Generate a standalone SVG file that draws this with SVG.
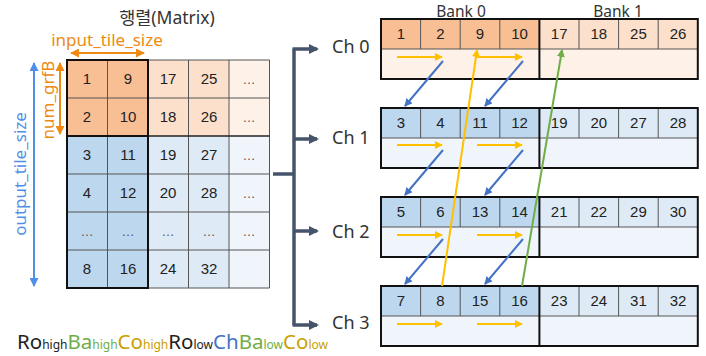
<svg xmlns="http://www.w3.org/2000/svg" width="706" height="356" viewBox="0 0 706 356">
  <style>
    .num { font-family: "Liberation Sans", Arial, sans-serif; font-size: 15px; fill: #222; text-anchor: middle; }
    .dots { font-family: "Liberation Sans", Arial, sans-serif; font-size: 13px; fill: #555; text-anchor: middle; }
    .lbl { font-family: "Noto Sans", "Noto Sans CJK KR", sans-serif; fill: #333; }
    .grid { stroke: #555; stroke-width: 1; fill: none; }
    .frame { stroke: #111; stroke-width: 2; fill: none; }
    .or1 { fill: #F8BF94; }
    .or2 { fill: #FCE0CB; }
    .or3 { fill: #FEF2E8; }
    .bl1 { fill: #BDD7EE; }
    .bl2 { fill: #DEEBF7; }
    .bl3 { fill: #F0F5FB; }
    .yel { stroke: #FFC000; stroke-width: 2; fill: none; }
    .blu { stroke: #4472C4; stroke-width: 2; fill: none; }
    .grn { stroke: #70AD47; stroke-width: 2; fill: none; }
    .bus { stroke: #44546A; stroke-width: 3.5; fill: none; }
  </style>
  <defs>
    <marker id="mYel" markerWidth="8" markerHeight="8" refX="7" refY="4" orient="auto" markerUnits="userSpaceOnUse"><path d="M0,0 L8,4 L0,8 Z" fill="#FFC000"/></marker>
    <marker id="mBlu" markerWidth="8" markerHeight="8" refX="7" refY="4" orient="auto" markerUnits="userSpaceOnUse"><path d="M0,0 L8,4 L0,8 Z" fill="#4472C4"/></marker>
    <marker id="mGrn" markerWidth="8" markerHeight="8" refX="7" refY="4" orient="auto" markerUnits="userSpaceOnUse"><path d="M0,0 L8,4 L0,8 Z" fill="#70AD47"/></marker>
    <marker id="mBus" markerWidth="10" markerHeight="10" refX="8" refY="5" orient="auto" markerUnits="userSpaceOnUse"><path d="M0,0 L10,5 L0,10 Z" fill="#44546A"/></marker>
    <marker id="mOrS" markerWidth="9" markerHeight="9" refX="1" refY="4.5" orient="auto" markerUnits="userSpaceOnUse"><path d="M9,0 L0,4.5 L9,9 Z" fill="#EE8A12"/></marker>
    <marker id="mOrE" markerWidth="9" markerHeight="9" refX="8" refY="4.5" orient="auto" markerUnits="userSpaceOnUse"><path d="M0,0 L9,4.5 L0,9 Z" fill="#EE8A12"/></marker>
    <marker id="mSkS" markerWidth="9" markerHeight="9" refX="1" refY="4.5" orient="auto" markerUnits="userSpaceOnUse"><path d="M9,0 L0,4.5 L9,9 Z" fill="#4F8FE8"/></marker>
    <marker id="mSkE" markerWidth="9" markerHeight="9" refX="8" refY="4.5" orient="auto" markerUnits="userSpaceOnUse"><path d="M0,0 L9,4.5 L0,9 Z" fill="#4F8FE8"/></marker>
  </defs>

  <!-- Matrix -->
  <g id="matrix">
    <text class="lbl" x="167" y="24" font-size="17.5" text-anchor="middle" font-family="Noto Sans CJK KR, sans-serif">행렬(Matrix)</text>
    <!-- fills -->
    <rect class="or1" x="67" y="60" width="81" height="76"/>
    <rect class="or2" x="148" y="60" width="81" height="76"/>
    <rect class="or3" x="229" y="60" width="40.5" height="76"/>
    <rect class="bl1" x="67" y="136" width="81" height="152"/>
    <rect class="bl2" x="148" y="136" width="81" height="152"/>
    <rect class="bl3" x="229" y="136" width="40.5" height="152"/>
    <!-- grid -->
    <path class="grid" d="M67,60 H269.5 V288 H67 Z M107.5,60 V288 M148,60 V288 M188.5,60 V288 M229,60 V288 M67,98 H269.5 M67,174 H269.5 M67,212 H269.5 M67,250 H269.5"/>
    <path d="M67,136 H269.5" stroke="#222" stroke-width="1.3"/>
    <rect class="frame" x="67" y="60" width="81" height="228"/>
    <path class="frame" d="M67,136 H148"/>
    <!-- values -->
    <text class="num" x="87" y="84">1</text><text class="num" x="128" y="84">9</text><text class="num" x="168" y="84">17</text><text class="num" x="209" y="84">25</text><text class="dots" x="249" y="84">…</text>
    <text class="num" x="87" y="122">2</text><text class="num" x="128" y="122">10</text><text class="num" x="168" y="122">18</text><text class="num" x="209" y="122">26</text><text class="dots" x="249" y="122">…</text>
    <text class="num" x="87" y="160">3</text><text class="num" x="128" y="160">11</text><text class="num" x="168" y="160">19</text><text class="num" x="209" y="160">27</text><text class="dots" x="249" y="160">…</text>
    <text class="num" x="87" y="198">4</text><text class="num" x="128" y="198">12</text><text class="num" x="168" y="198">20</text><text class="num" x="209" y="198">28</text><text class="dots" x="249" y="198">…</text>
    <text class="dots" x="87" y="236">…</text><text class="dots" x="128" y="236">…</text><text class="dots" x="168" y="236">…</text><text class="dots" x="209" y="236">…</text><text class="dots" x="249" y="236">…</text>
    <text class="num" x="87" y="274">8</text><text class="num" x="128" y="274">16</text><text class="num" x="168" y="274">24</text><text class="num" x="209" y="274">32</text>
  </g>

  <!-- Dimension annotations -->
  <g id="dim-input">
    <text class="lbl" x="107" y="46" font-size="17" text-anchor="middle" style="fill:#EE8A12">input_tile_size</text>
    <path d="M71,53 H144" stroke="#EE8A12" stroke-width="2" marker-start="url(#mOrS)" marker-end="url(#mOrE)"/>
  </g>
  <g id="dim-grf">
    <text class="lbl" x="0" y="0" font-size="17" text-anchor="middle" style="fill:#EE8A12" transform="translate(54,100) rotate(-90)">num_grfB</text>
    <path d="M60,63 V134" stroke="#EE8A12" stroke-width="2" marker-start="url(#mOrS)" marker-end="url(#mOrE)"/>
  </g>
  <g id="dim-output">
    <text class="lbl" x="0" y="0" font-size="17" text-anchor="middle" style="fill:#4F8FE8" transform="translate(26,174) rotate(-90)">output_tile_size</text>
    <path d="M34,63 V286" stroke="#4F8FE8" stroke-width="2" marker-start="url(#mSkS)" marker-end="url(#mSkE)"/>
  </g>

  <!-- Address bit order -->
  <text id="addr" x="17" y="349" font-family="Noto Sans, sans-serif" font-size="20.5"><tspan fill="#222">Ro</tspan><tspan font-size="12" fill="#222">high</tspan><tspan fill="#70AD47">Ba</tspan><tspan font-size="12" fill="#70AD47">high</tspan><tspan fill="#C9A000">Co</tspan><tspan font-size="12" fill="#C9A000">high</tspan><tspan fill="#222">Ro</tspan><tspan font-size="12" fill="#222">low</tspan><tspan fill="#4472C4">Ch</tspan><tspan fill="#70AD47">Ba</tspan><tspan font-size="12" fill="#70AD47">low</tspan><tspan fill="#C9A000">Co</tspan><tspan font-size="12" fill="#C9A000">low</tspan></text>

  <!-- Bank headers -->
  <text class="lbl" x="461" y="16.5" font-size="15.5" text-anchor="middle">Bank 0</text>
  <text class="lbl" x="618" y="16.5" font-size="15.5" text-anchor="middle">Bank 1</text>

  <!-- Channel 0 -->
  <g id="ch0">
    <text class="lbl" x="332" y="53" font-size="18">Ch 0</text>
    <rect class="or1" x="381" y="19" width="158.4" height="30"/>
    <rect class="or2" x="539.4" y="19" width="158.4" height="30"/>
    <rect class="or3" x="381" y="49" width="316.8" height="30"/>
    <path class="grid" d="M381,49 H697.8 M420.6,19 V49 M460.2,19 V49 M499.8,19 V49 M579,19 V49 M618.6,19 V49 M658.2,19 V49"/>
    <rect class="frame" x="381" y="19" width="316.8" height="60"/>
    <path class="frame" d="M539.4,19 V79"/>
    <text class="num" x="400.8" y="39">1</text><text class="num" x="440.4" y="39">2</text><text class="num" x="480" y="39">9</text><text class="num" x="519.6" y="39">10</text>
    <text class="num" x="559.2" y="39">17</text><text class="num" x="598.8" y="39">18</text><text class="num" x="638.4" y="39">25</text><text class="num" x="678" y="39">26</text>
  </g>

  <!-- Channel 1 -->
  <g id="ch1">
    <text class="lbl" x="332" y="144" font-size="18">Ch 1</text>
    <rect class="bl1" x="381" y="108" width="158.4" height="30"/>
    <rect class="bl2" x="539.4" y="108" width="158.4" height="30"/>
    <rect class="bl3" x="381" y="138" width="316.8" height="30"/>
    <path class="grid" d="M381,138 H697.8 M420.6,108 V138 M460.2,108 V138 M499.8,108 V138 M579,108 V138 M618.6,108 V138 M658.2,108 V138"/>
    <rect class="frame" x="381" y="108" width="316.8" height="60"/>
    <path class="frame" d="M539.4,108 V168"/>
    <text class="num" x="400.8" y="128">3</text><text class="num" x="440.4" y="128">4</text><text class="num" x="480" y="128">11</text><text class="num" x="519.6" y="128">12</text>
    <text class="num" x="559.2" y="128">19</text><text class="num" x="598.8" y="128">20</text><text class="num" x="638.4" y="128">27</text><text class="num" x="678" y="128">28</text>
  </g>

  <!-- Channel 2 -->
  <g id="ch2">
    <text class="lbl" x="332" y="238" font-size="18">Ch 2</text>
    <rect class="bl1" x="381" y="197" width="158.4" height="30"/>
    <rect class="bl2" x="539.4" y="197" width="158.4" height="30"/>
    <rect class="bl3" x="381" y="227" width="316.8" height="30"/>
    <path class="grid" d="M381,227 H697.8 M420.6,197 V227 M460.2,197 V227 M499.8,197 V227 M579,197 V227 M618.6,197 V227 M658.2,197 V227"/>
    <rect class="frame" x="381" y="197" width="316.8" height="60"/>
    <path class="frame" d="M539.4,197 V257"/>
    <text class="num" x="400.8" y="217">5</text><text class="num" x="440.4" y="217">6</text><text class="num" x="480" y="217">13</text><text class="num" x="519.6" y="217">14</text>
    <text class="num" x="559.2" y="217">21</text><text class="num" x="598.8" y="217">22</text><text class="num" x="638.4" y="217">29</text><text class="num" x="678" y="217">30</text>
  </g>

  <!-- Channel 3 -->
  <g id="ch3">
    <text class="lbl" x="332" y="329" font-size="18">Ch 3</text>
    <rect class="bl1" x="381" y="286" width="158.4" height="30"/>
    <rect class="bl2" x="539.4" y="286" width="158.4" height="30"/>
    <rect class="bl3" x="381" y="316" width="316.8" height="30"/>
    <path class="grid" d="M381,316 H697.8 M420.6,286 V316 M460.2,286 V316 M499.8,286 V316 M579,286 V316 M618.6,286 V316 M658.2,286 V316"/>
    <rect class="frame" x="381" y="286" width="316.8" height="60"/>
    <path class="frame" d="M539.4,286 V346"/>
    <text class="num" x="400.8" y="306">7</text><text class="num" x="440.4" y="306">8</text><text class="num" x="480" y="306">15</text><text class="num" x="519.6" y="306">16</text>
    <text class="num" x="559.2" y="306">23</text><text class="num" x="598.8" y="306">24</text><text class="num" x="638.4" y="306">31</text><text class="num" x="678" y="306">32</text>
  </g>

  <!-- Connectors -->
  <g id="connectors">
    <!-- distribution bus -->
    <path class="bus" d="M273,174 H294"/>
    <path class="bus" d="M294,49 V325"/>
    <path class="bus" d="M292.5,49 H317" marker-end="url(#mBus)"/>
    <path class="bus" d="M294,139 H317" marker-end="url(#mBus)"/>
    <path class="bus" d="M294,231 H317" marker-end="url(#mBus)"/>
    <path class="bus" d="M292.5,325 H317" marker-end="url(#mBus)"/>

    <!-- column order within a row -->
    <path class="yel" d="M397,57 H442" marker-end="url(#mYel)"/>
    <path class="yel" d="M477,57 H522" marker-end="url(#mYel)"/>
    <path class="yel" d="M397,145 H442" marker-end="url(#mYel)"/>
    <path class="yel" d="M477,145 H522" marker-end="url(#mYel)"/>
    <path class="yel" d="M397,235 H442" marker-end="url(#mYel)"/>
    <path class="yel" d="M477,235 H522" marker-end="url(#mYel)"/>
    <path class="yel" d="M397,324 H442" marker-end="url(#mYel)"/>
    <path class="yel" d="M477,324 H522" marker-end="url(#mYel)"/>

    <!-- channel step -->
    <path class="blu" d="M443,61 L405,106" marker-end="url(#mBlu)"/>
    <path class="blu" d="M523,61 L485,106" marker-end="url(#mBlu)"/>
    <path class="blu" d="M443,150 L405,195" marker-end="url(#mBlu)"/>
    <path class="blu" d="M523,150 L485,195" marker-end="url(#mBlu)"/>
    <path class="blu" d="M443,239 L405,284" marker-end="url(#mBlu)"/>
    <path class="blu" d="M523,239 L485,284" marker-end="url(#mBlu)"/>

    <!-- wrap to next column / bank -->
    <path class="yel" d="M442,286 L477,50" marker-end="url(#mYel)"/>
    <path class="grn" d="M522,286 L562,50" marker-end="url(#mGrn)"/>
  </g>
</svg>
